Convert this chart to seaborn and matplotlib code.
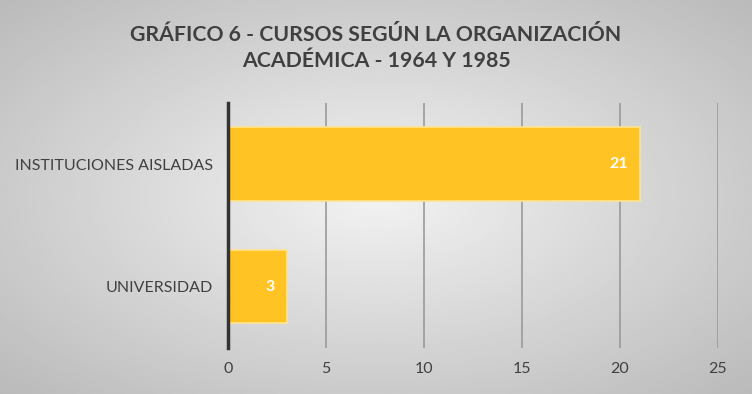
import numpy as np
import pandas as pd
import matplotlib
matplotlib.use('Agg')
import matplotlib.pyplot as plt
import seaborn as sns

categories = ['INSTITUCIONES AISLADAS', 'UNIVERSIDAD']
values = [21, 3]
title = 'GRÁFICO 6 - CURSOS SEGÚN LA ORGANIZACIÓN\nACADÉMICA - 1964 Y 1985'
x_ticks = [0, 5, 10, 15, 20, 25]

df = pd.DataFrame({'categoria': categories, 'cursos': values})

sns.set_style("white")
plt.rcParams['font.family'] = ['Lato', 'DejaVu Sans']

fig = plt.figure(figsize=(7.52, 3.94), dpi=100)

# radial gray gradient background
bg = fig.add_axes([0, 0, 1, 1], zorder=-10)
yy, xx = np.mgrid[-1:1:200j, -1:1:380j]
r = np.sqrt(xx ** 2 + yy ** 2) / np.sqrt(2)
bg.imshow(0.95 - 0.22 * r, cmap='gray', vmin=0, vmax=1, aspect='auto', extent=[0, 1, 0, 1])
bg.axis('off')

ax = fig.add_axes([0.3032, 0.1168, 0.6516, 0.6218])
ax.patch.set_alpha(0)
sns.barplot(data=df, x='cursos', y='categoria', orient='h', color='#FFC423',
            edgecolor='#FFE48F', linewidth=1.2, width=0.6, saturation=1, ax=ax, zorder=3)

ax.set_xlim(0, 25)
ax.set_xticks(x_ticks)
ax.grid(axis='x', color='#9a9a9a', linewidth=1.2, zorder=0)
ax.set_axisbelow(True)
for s in ['top', 'right', 'bottom']:
    ax.spines[s].set_visible(False)
ax.spines['left'].set_color('#333333')
ax.spines['left'].set_linewidth(2.5)
ax.spines['left'].set_zorder(5)
ax.tick_params(axis='both', length=0, labelsize=11.5, labelcolor='#404040')
ax.tick_params(axis='x', pad=10)
ax.tick_params(axis='y', pad=11)
ax.set_xlabel('')
ax.set_ylabel('')

for i, v in enumerate(values):
    ax.text(v - 0.6, i, str(v), ha='right', va='center', color='white',
            fontsize=11.5, fontweight='bold', zorder=6)

fig.text(0.5, 0.878, title, ha='center', va='center', fontsize=15.3, fontweight='bold',
         color='#404040', linespacing=1.4)

fig.savefig('out.png', dpi=100)
